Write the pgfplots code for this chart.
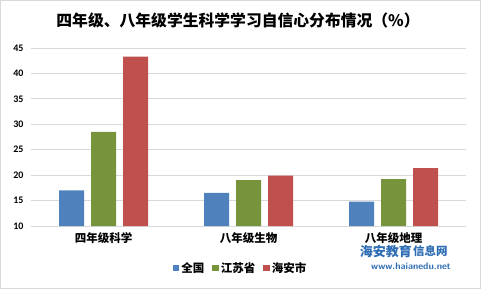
\documentclass[border=0pt]{standalone}
\usepackage{fontspec}
\setmainfont{Carlito}
\newfontfamily\cjk{Noto Sans CJK SC}
\usepackage{pgfplots}
\pgfplotsset{compat=1.18}
\definecolor{cBlue}{HTML}{4F81BD}
\definecolor{cGreen}{HTML}{77933C}
\definecolor{cRed}{HTML}{C0504D}
\definecolor{cGrid}{HTML}{D9D9D9}
\definecolor{cMark}{HTML}{2E6DB4}
\begin{document}
\begin{tikzpicture}[x=1bp,y=1bp]
\useasboundingbox (0,0) rectangle (481,289);
\draw[color=cGrid, line width=0.8bp] (0.5,0.5) rectangle (480.5,288.5);
\node[font=\cjk\bfseries\fontsize{15.8bp}{18bp}\selectfont, anchor=center] at (238,269) {四年级、八年级学生科学学习自信心分布情况（\%）};
\begin{axis}[
  at={(31bp,63bp)}, anchor=south west,
  scale only axis, width=435bp, height=178bp,
  ymin=10, ymax=45, ytick={10,15,...,45},
  xmin=-0.5, xmax=2.5,
  xtick=data, xticklabels={四年级科学,八年级生物,八年级地理},
  ybar=7bp, bar width=25bp,
  axis line style={draw=none},
  axis x line*=bottom, axis y line*=left,
  x axis line style={draw=cGrid, line width=0.8bp},
  y axis line style={draw=none},
  major tick length=0pt,
  ymajorgrids, grid style={cGrid, line width=0.8bp},
  /pgf/number format/assume math mode=true,
  yticklabel style={font=\bfseries\fontsize{10bp}{12bp}\selectfont, xshift=-4bp},
  xticklabel style={font=\cjk\bfseries\fontsize{11.5bp}{13bp}\selectfont, yshift=-3bp},
  legend style={at={(0.482,-0.236)}, anchor=center, draw=none, fill=none,
    legend columns=3, font=\cjk\bfseries\fontsize{11.5bp}{13bp}\selectfont,
    /tikz/every even column/.append style={column sep=6bp}},
  legend image code/.code={\fill[#1] (0bp,-3bp) rectangle (6.5bp,3.5bp);},
]
\addplot[fill=cBlue, draw=none] coordinates {(0,17.0) (1,16.5) (2,14.8)};
\addplot[fill=cGreen, draw=none] coordinates {(0,28.5) (1,19.0) (2,19.2)};
\addplot[fill=cRed, draw=none] coordinates {(0,43.3) (1,19.9) (2,21.4)};
\legend{全国,江苏省,海安市}
\end{axis}
\node[font=\cjk\bfseries\itshape\fontsize{13bp}{14bp}\selectfont, text=cMark, anchor=east, inner sep=0] at (412,38) {海安教育};
\node[font=\cjk\bfseries\fontsize{11.5bp}{13bp}\selectfont, text=cMark, anchor=west, inner sep=0] at (413,38) {信息网};
\node[font=\sffamily\bfseries\fontsize{9.5bp}{11bp}\selectfont, text=cMark, anchor=center, inner sep=0] at (411,23) {www.haianedu.net};
\end{tikzpicture}
\end{document}
